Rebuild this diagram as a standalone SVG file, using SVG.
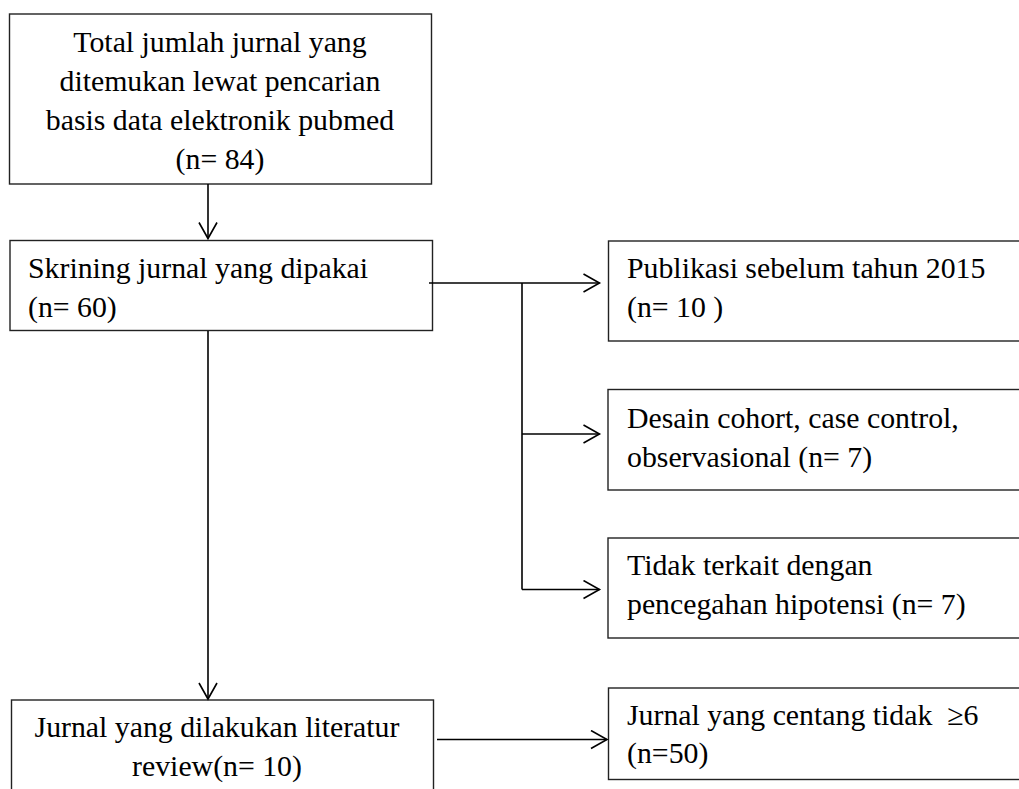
<svg xmlns="http://www.w3.org/2000/svg" width="1019" height="789" viewBox="0 0 1019 789">
<style>
.box{fill:#fff;stroke:#222;stroke-width:1.4}
.t{font-family:"Liberation Serif","Times New Roman",serif;font-size:29.8px;fill:#000}
.c{text-anchor:middle}
.ln{fill:none;stroke:#000;stroke-width:1.6}
</style>
<defs>
<marker id="ah" markerWidth="20" markerHeight="20" refX="17" refY="10" orient="auto" markerUnits="userSpaceOnUse">
<path d="M1,1 L17,10 L1,19" fill="none" stroke="#000" stroke-width="1.6"/>
</marker>
</defs>
<rect width="1019" height="789" fill="#fff"/>
<g id="n1">
<rect class="box" x="9.5" y="14" width="422" height="170"/>
<text class="t c" x="220" y="52">Total jumlah jurnal yang</text>
<text class="t c" x="220" y="91">ditemukan lewat pencarian</text>
<text class="t c" x="220" y="129.5">basis data elektronik pubmed</text>
<text class="t c" x="220" y="168.5">(n= 84)</text>
</g>
<g id="n2">
<rect class="box" x="10" y="240.5" width="422.5" height="90"/>
<text class="t" x="28" y="277.5">Skrining jurnal yang dipakai</text>
<text class="t" x="28" y="316.5">(n= 60)</text>
</g>
<g id="n3">
<rect class="box" x="608.5" y="241" width="430" height="100"/>
<text class="t" x="627" y="277.5">Publikasi sebelum tahun 2015</text>
<text class="t" x="627" y="316.5">(n= 10 )</text>
</g>
<g id="n4">
<rect class="box" x="608" y="389.5" width="430" height="100.5"/>
<text class="t" x="627" y="427.5">Desain cohort, case control,</text>
<text class="t" x="627" y="466.5">observasional (n= 7)</text>
</g>
<g id="n5">
<rect class="box" x="608" y="538" width="430" height="100"/>
<text class="t" x="627" y="575">Tidak terkait dengan</text>
<text class="t" x="627" y="613.5">pencegahan hipotensi (n= 7)</text>
</g>
<g id="n6">
<rect class="box" x="11.5" y="700" width="422" height="110"/>
<text class="t c" x="217" y="737">Jurnal yang dilakukan literatur</text>
<text class="t c" x="217" y="776">review(n= 10)</text>
</g>
<g id="n7">
<rect class="box" x="608.5" y="688" width="430" height="91.5"/>
<text class="t" x="627" y="724.5" style="white-space:pre">Jurnal yang centang tidak  ≥6</text>
<text class="t" x="627" y="763">(n=50)</text>
</g>
<g id="connectors">
<line class="ln" x1="208" y1="184" x2="208" y2="238.5" marker-end="url(#ah)"/>
<line class="ln" x1="208" y1="331" x2="208" y2="699" marker-end="url(#ah)"/>
<line class="ln" x1="429" y1="283" x2="599.5" y2="283" marker-end="url(#ah)"/>
<polyline class="ln" points="522,283 522,589.5"/>
<line class="ln" x1="522" y1="434" x2="599.5" y2="434" marker-end="url(#ah)"/>
<line class="ln" x1="522" y1="589.5" x2="599.5" y2="589.5" marker-end="url(#ah)"/>
<line class="ln" x1="437" y1="739.5" x2="607" y2="739.5" marker-end="url(#ah)"/>
</g>
</svg>
